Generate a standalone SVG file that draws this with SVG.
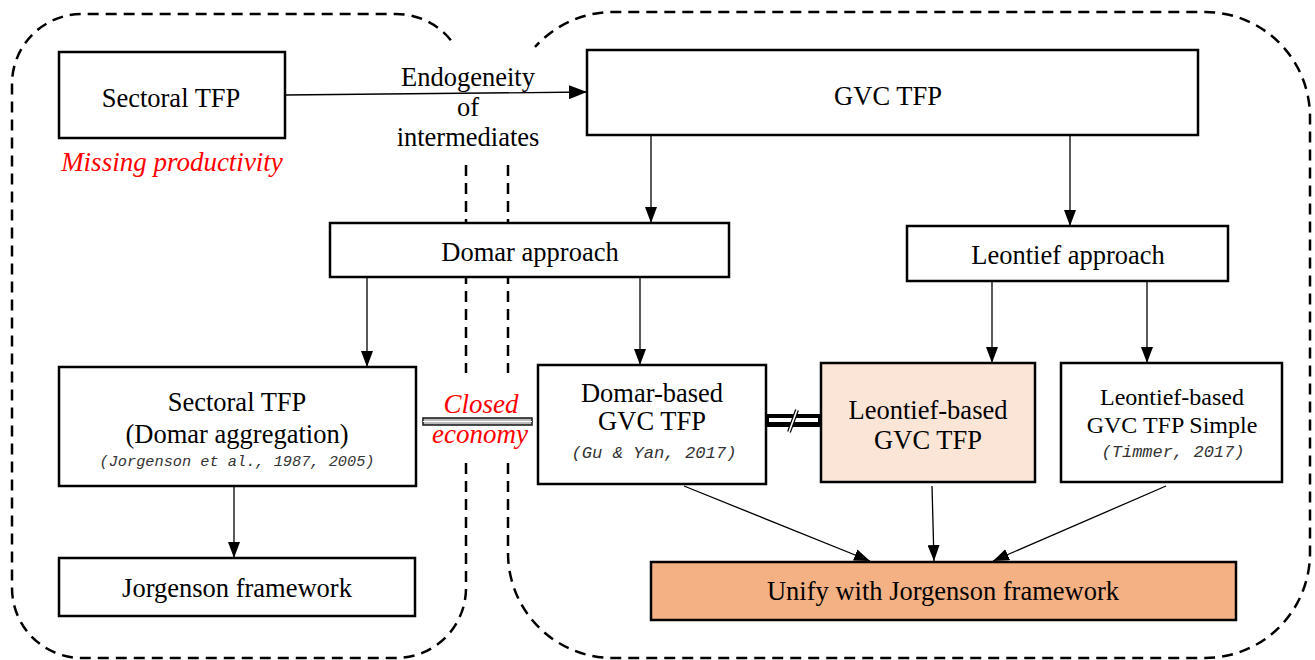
<svg xmlns="http://www.w3.org/2000/svg" width="1315" height="660" viewBox="0 0 1315 660">
<defs>
<marker id="ah" viewBox="0 0 16 12" refX="16" refY="6" markerWidth="16" markerHeight="12" markerUnits="userSpaceOnUse" orient="auto">
<path d="M0,0 L16,6 L0,12 Z" fill="#000"/>
</marker>
<marker id="ahb" viewBox="0 0 18 14" refX="18" refY="7" markerWidth="18" markerHeight="14" markerUnits="userSpaceOnUse" orient="auto">
<path d="M0,0 L18,7 L0,14 Z" fill="#000"/>
</marker>
<style>
.region{fill:none;stroke:#000;stroke-width:2.5;stroke-dasharray:11 7}
.box{fill:#fff;stroke:#000;stroke-width:2.5}
.t{font-family:"Liberation Serif","Times New Roman",serif;font-size:26.5px;fill:#000;text-anchor:middle}
.ts{font-family:"Liberation Serif","Times New Roman",serif;font-size:24px;fill:#000;text-anchor:middle}
.red{font-family:"Liberation Serif","Times New Roman",serif;font-size:27px;font-style:italic;fill:#f00;text-anchor:middle}
.cite{font-family:"Liberation Mono","Courier New",monospace;font-style:italic;fill:#333;text-anchor:middle}
.arr{fill:none;stroke:#000;stroke-width:1.3;marker-end:url(#ah)}
</style>
</defs>
<rect width="1315" height="660" fill="#fff"/>

<g id="regions">
<path class="region" d="M466,165 V373"/>
<path class="region" d="M466,463 V588 A70,70 0 0 1 396,658 H82 A70,70 0 0 1 12,588 V84 A70,70 0 0 1 82,14 H396 A70,70 0 0 1 453,43"/>
<path class="region" d="M508,165 V373"/>
<path class="region" d="M508,463 V553 A105,105 0 0 0 613,658 H1205 A105,105 0 0 0 1310,553 V117 A105,105 0 0 0 1205,12 H613 A105,105 0 0 0 535,47"/>
</g>

<g id="connectors">
<line x1="285" y1="95" x2="587" y2="92" stroke="#000" stroke-width="1.3" marker-end="url(#ahb)"/>
<line class="arr" x1="651" y1="135" x2="651" y2="223"/>
<line class="arr" x1="1070" y1="135" x2="1070" y2="226"/>
<line class="arr" x1="367" y1="277" x2="367" y2="367"/>
<line class="arr" x1="640" y1="277" x2="640" y2="365"/>
<line class="arr" x1="992" y1="281" x2="992" y2="363"/>
<line class="arr" x1="1147" y1="281" x2="1147" y2="363"/>
<line class="arr" x1="234" y1="486" x2="234" y2="558"/>
<line class="arr" x1="684" y1="486" x2="870" y2="561"/>
<line class="arr" x1="932" y1="486" x2="934" y2="561"/>
<line class="arr" x1="1166" y1="486" x2="993" y2="561"/>
<g id="closed-economy">
<rect x="423" y="418" width="109" height="7" fill="#bbb" stroke="#222" stroke-width="1.6"/>
<line x1="423" y1="421.5" x2="532" y2="421.5" stroke="#fff" stroke-width="1.2"/>
</g>
<g id="not-equal">
<rect x="767" y="414" width="53" height="13" fill="#000"/>
<rect x="769" y="418" width="49" height="4" fill="#fff"/>
<line x1="797" y1="410" x2="789" y2="432" stroke="#000" stroke-width="4"/>
<line x1="797" y1="410" x2="789" y2="432" stroke="#fff" stroke-width="1.6"/>
</g>
</g>

<g id="label-endogeneity">
<text class="t" x="468" y="86">Endogeneity</text>
<text class="t" x="468" y="116">of</text>
<text class="t" x="468" y="146">intermediates</text>
</g>
<g id="label-closed">
<text class="red" x="481" y="413">Closed</text>
<text class="red" x="480" y="443">economy</text>
</g>

<g id="n-sectoral">
<rect class="box" x="59" y="52" width="226" height="86"/>
<text class="t" x="171" y="107">Sectoral TFP</text>
</g>
<g id="n-missing">
<text class="red" x="172" y="171">Missing productivity</text>
</g>
<g id="n-gvc">
<rect class="box" x="587" y="50" width="611" height="85"/>
<text class="t" x="888" y="105">GVC TFP</text>
</g>
<g id="n-domar-approach">
<rect class="box" x="330" y="223" width="399" height="54"/>
<text class="t" x="530" y="261">Domar approach</text>
</g>
<g id="n-leontief-approach">
<rect class="box" x="907" y="226" width="321" height="55"/>
<text class="t" x="1068" y="264">Leontief approach</text>
</g>
<g id="n-sectoral-domar">
<rect class="box" x="59" y="367" width="357" height="119"/>
<text class="t" x="237" y="411">Sectoral TFP</text>
<text class="t" x="237" y="443">(Domar aggregation)</text>
<text class="cite" x="237" y="466" font-size="15" textLength="275" lengthAdjust="spacingAndGlyphs">(Jorgenson et al., 1987, 2005)</text>
</g>
<g id="n-jorgenson">
<rect class="box" x="59" y="558" width="356" height="58"/>
<text class="t" x="237" y="597">Jorgenson framework</text>
</g>
<g id="n-domar-based">
<rect class="box" x="538" y="365" width="228" height="119"/>
<text class="t" x="652" y="402">Domar-based</text>
<text class="t" x="652" y="430">GVC TFP</text>
<text class="cite" x="654" y="458" font-size="17" textLength="165" lengthAdjust="spacingAndGlyphs">(Gu &amp; Yan, 2017)</text>
</g>
<g id="n-leontief-based">
<rect class="box" x="821" y="363" width="214" height="119" style="fill:#FBE5D6"/>
<text class="t" x="928" y="419">Leontief-based</text>
<text class="t" x="928" y="449">GVC TFP</text>
</g>
<g id="n-leontief-simple">
<rect class="box" x="1061" y="363" width="221" height="119"/>
<text class="ts" x="1172" y="405">Leontief-based</text>
<text class="ts" x="1172" y="433">GVC TFP Simple</text>
<text class="cite" x="1173" y="457" font-size="17" textLength="143" lengthAdjust="spacingAndGlyphs">(Timmer, 2017)</text>
</g>
<g id="n-unify">
<rect class="box" x="651" y="562" width="585" height="58" style="fill:#F4B183"/>
<text class="t" x="943" y="600">Unify with Jorgenson framework</text>
</g>
</svg>
